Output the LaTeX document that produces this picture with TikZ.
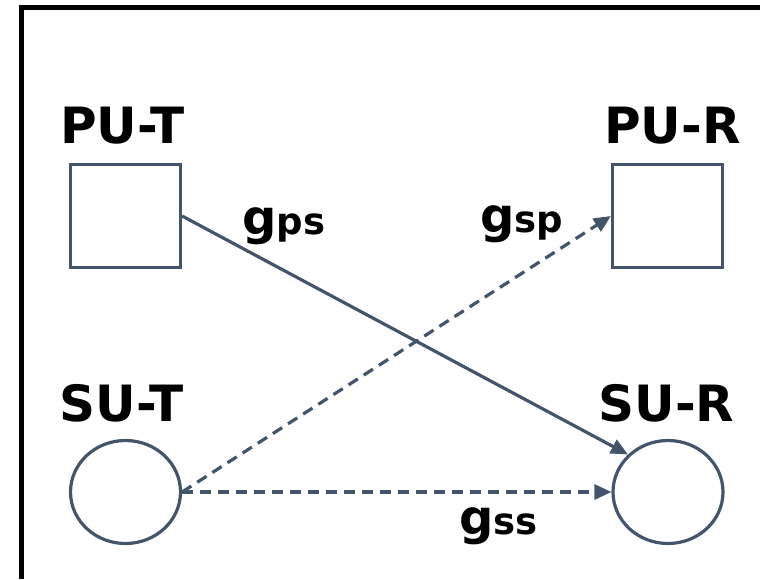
\documentclass[tikz,border=0pt]{standalone}
\usepackage{fontspec}
\setmainfont{DejaVu Sans}
\usetikzlibrary{shapes.geometric,arrows.meta}
\definecolor{slate}{HTML}{44546A}
\tikzset{
  unitbox/.style={draw=slate, line width=3.2pt, rectangle, minimum width=110pt, minimum height=103pt, inner sep=0pt},
  unitcirc/.style={draw=slate, line width=3.2pt, ellipse, minimum width=110pt, minimum height=103pt, inner sep=0pt},
  title/.style={font=\fontsize{50}{50}\selectfont\bfseries, anchor=base, inner sep=0pt},
  gain/.style={font=\fontsize{48}{48}\selectfont\bfseries, anchor=base west, inner sep=0pt},
  link/.style={draw=slate, line width=3.2pt, -{Triangle[length=17pt,width=15pt]}},
  dashlink/.style={link, dash pattern=on 11pt off 7pt},
  frame/.style={line width=5pt, black}
}
\newcommand{\gsub}[1]{g{\fontsize{37}{37}\selectfont #1}}
\begin{document}
\begin{tikzpicture}[x=1pt,y=-1pt]
\useasboundingbox (0,0) rectangle (760,579);
\coordinate (fa) at (21,579);
\coordinate (fb) at (21,7);
\coordinate (fc) at (760,7);
\draw[frame] (fa) -- (fb) -- (fc);
\node[unitbox] (put) at (125.5,216) {};
\node[unitbox] (pur) at (667.5,216) {};
\node[unitcirc] (sut) at (125.5,492) {};
\node[unitcirc] (sur) at (668,492) {};
\node[title] (lput) at (122.5,143) {PU-T};
\node[title] (lpur) at (672.5,143) {PU-R};
\node[title] (lsut) at (122,421) {SU-T};
\node[title] (lsur) at (666.5,421) {SU-R};
\draw[link] (put.east) -- (sur.north west);
\draw[dashlink] (sut.east) -- (pur.west);
\draw[dashlink] (sut.east) -- (sur.west);
\node[gain] (gps) at (242,234) {\gsub{ps}};
\node[gain] (gsp) at (480,232) {\gsub{sp}};
\node[gain] (gss) at (459,534) {\gsub{ss}};
\end{tikzpicture}
\end{document}
